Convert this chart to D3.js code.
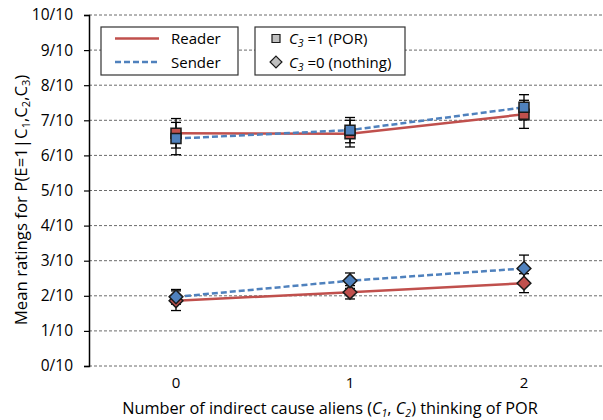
<!DOCTYPE html>
<html><head><meta charset="utf-8">
<script src="https://cdn.jsdelivr.net/npm/d3@7"></script>
<style>body{margin:0;background:#fff}svg{display:block}text{font-family:"Open Sans",sans-serif;fill:#000}</style>
</head><body><svg id="c" width="603" height="420"></svg>
<script>
const categories = ["0","1","2"];
const yTicks = [0,1,2,3,4,5,6,7,8,9,10];
const yTickLabels = yTicks.map(d => d + "/10");
// C3 = 1 (POR) : squares
const readerPOR = [6.63, 6.62, 7.17];
const readerPORErr = [0.42, 0.38, 0.40];
const senderPOR = [6.48, 6.72, 7.37];
const senderPORErr = [0.46, 0.36, 0.36];
// C3 = 0 (nothing) : diamonds
const readerNothing = [1.86, 2.10, 2.36];
const readerNothingErr = [0.28, 0.19, 0.27];
const senderNothing = [1.97, 2.43, 2.78];
const senderNothingErr = [0.21, 0.22, 0.38];

const RED = "#C0504D", BLUE = "#4F81BD";
const svg = d3.select("#c");
const x = d3.scaleBand().domain(categories).range([89, 611]);
const cx = d => x(d) + x.bandwidth() / 2;
const y = d3.scaleLinear().domain([0, 10]).range([366, 15]);

// gridlines
svg.append("g").selectAll("line").data(yTicks).join("line")
  .attr("x1", 89).attr("x2", 603).attr("y1", d => y(d)).attr("y2", d => y(d))
  .attr("stroke", "#6b6b6b").attr("stroke-width", 1).attr("stroke-dasharray", "3,2");

// y axis
const yAxis = d3.axisLeft(y).tickValues(yTicks).tickFormat((d, i) => yTickLabels[i]).tickSize(5).tickPadding(11);
const ga = svg.append("g").attr("transform", "translate(89,0)").call(yAxis);
ga.select(".domain").attr("stroke", "#000").attr("stroke-width", 1.5);
ga.selectAll(".tick line").attr("stroke", "#000").attr("stroke-width", 1.2);
ga.selectAll(".tick text").style("font-size", "15.5px").style("font-family", "Open Sans").attr("fill", "#000");

// x axis labels
const xAxis = d3.axisBottom(x).tickSize(0).tickPadding(11);
const gx = svg.append("g").attr("transform", "translate(0,366)").call(xAxis);
gx.select(".domain").remove();
gx.selectAll(".tick text").style("font-size", "15px").style("font-family", "Open Sans").attr("fill", "#000");

// titles
svg.append("text").attr("x", 330).attr("y", 414).attr("text-anchor", "middle").style("font-size", "16.3px")
  .html('Number of indirect cause aliens (<tspan font-style="italic">C</tspan><tspan font-style="italic" font-size="10.5px" dy="3">1</tspan><tspan dy="-3">, </tspan><tspan font-style="italic">C</tspan><tspan font-style="italic" font-size="10.5px" dy="3">2</tspan><tspan dy="-3">) thinking of POR</tspan>');
svg.append("text").attr("transform", "translate(27,200) rotate(-90)").attr("text-anchor", "middle").style("font-size", "16.8px")
  .html('Mean ratings for P(E=1|C<tspan font-size="11px" dy="3">1</tspan><tspan dy="-3">,C</tspan><tspan font-size="11px" dy="3">2</tspan><tspan dy="-3">,C</tspan><tspan font-size="11px" dy="3">3</tspan><tspan dy="-3">)</tspan>');

const line = d3.line().x((d, i) => cx(categories[i])).y(d => y(d));
function drawLine(vals, color, dash) {
  svg.append("path").datum(vals).attr("d", line).attr("fill", "none").attr("stroke", color)
    .attr("stroke-width", 2.5).attr("stroke-dasharray", dash || null);
}
drawLine(readerPOR, RED); drawLine(readerNothing, RED);
drawLine(senderPOR, BLUE, "6,3"); drawLine(senderNothing, BLUE, "6,3");

function drawErr(vals, errs) {
  const g = svg.append("g").attr("stroke", "#000").attr("stroke-width", 1.3);
  vals.forEach((v, i) => {
    const xx = cx(categories[i]);
    g.append("line").attr("x1", xx).attr("x2", xx).attr("y1", y(v + errs[i])).attr("y2", y(v - errs[i]));
    [v + errs[i], v - errs[i]].forEach(e => g.append("line").attr("x1", xx - 5).attr("x2", xx + 5).attr("y1", y(e)).attr("y2", y(e)));
  });
}
drawErr(readerPOR, readerPORErr); drawErr(senderPOR, senderPORErr);
drawErr(readerNothing, readerNothingErr); drawErr(senderNothing, senderNothingErr);

const sq = d3.symbol().type(d3.symbolSquare).size(100);
const dm = d3.symbol().type(d3.symbolDiamond2).size(120);
function drawMarks(vals, sym, color) {
  svg.append("g").selectAll("path").data(vals).join("path")
    .attr("transform", (d, i) => `translate(${cx(categories[i])},${y(d)})`)
    .attr("d", sym).attr("fill", color).attr("stroke", "#1a1a1a").attr("stroke-width", 1.5);
}
drawMarks(readerPOR, sq, RED); drawMarks(senderPOR, sq, BLUE);
drawMarks(readerNothing, dm, RED); drawMarks(senderNothing, dm, BLUE);

// legends
const leg1 = svg.append("g");
leg1.append("rect").attr("x", 101).attr("y", 27).attr("width", 137).attr("height", 48).attr("fill", "#fff").attr("stroke", "#333").attr("stroke-width", 1.2);
leg1.append("line").attr("x1", 115).attr("x2", 159).attr("y1", 38.5).attr("y2", 38.5).attr("stroke", RED).attr("stroke-width", 2.5);
leg1.append("line").attr("x1", 115).attr("x2", 159).attr("y1", 62).attr("y2", 62).attr("stroke", BLUE).attr("stroke-width", 2.5).attr("stroke-dasharray", "6,3");
leg1.append("text").attr("x", 171).attr("y", 44).style("font-size", "15px").text("Reader");
leg1.append("text").attr("x", 171).attr("y", 67.5).style("font-size", "15px").text("Sender");

const leg2 = svg.append("g");
leg2.append("rect").attr("x", 255).attr("y", 27).attr("width", 150).attr("height", 48).attr("fill", "#fff").attr("stroke", "#333").attr("stroke-width", 1.2);
leg2.append("path").attr("transform", "translate(276,38.5)").attr("d", d3.symbol().type(d3.symbolSquare).size(64)).attr("fill", "#BFBFBF").attr("stroke", "#1a1a1a").attr("stroke-width", 1.2);
leg2.append("path").attr("transform", "translate(276,62)").attr("d", d3.symbol().type(d3.symbolDiamond2).size(90)).attr("fill", "#BFBFBF").attr("stroke", "#1a1a1a").attr("stroke-width", 1.2);
leg2.append("text").attr("x", 289).attr("y", 44).style("font-size", "15px")
  .html('<tspan font-style="italic">C</tspan><tspan font-style="italic" font-size="10.5px" dy="3">3</tspan><tspan dy="-3"> =1 (POR)</tspan>');
leg2.append("text").attr("x", 289).attr("y", 67.5).style("font-size", "15px")
  .html('<tspan font-style="italic">C</tspan><tspan font-style="italic" font-size="10.5px" dy="3">3</tspan><tspan dy="-3"> =0 (nothing)</tspan>');
</script></body></html>
